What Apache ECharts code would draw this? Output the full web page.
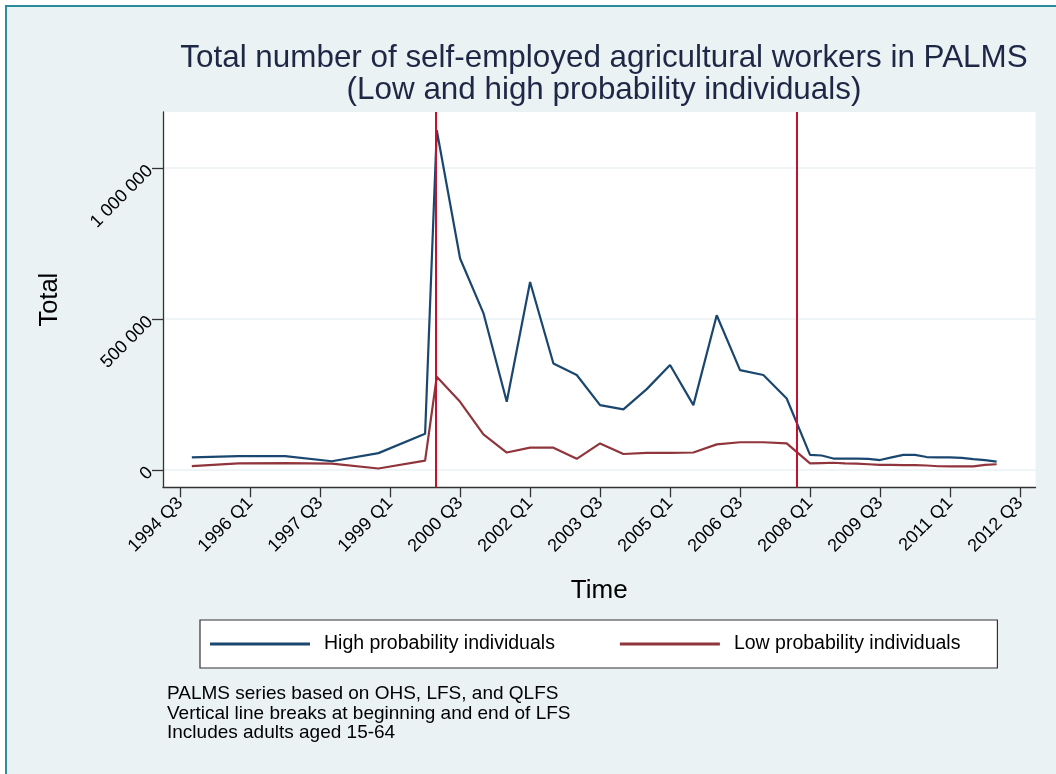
<!DOCTYPE html>
<html>
<head>
<meta charset="utf-8">
<script src="https://cdn.jsdelivr.net/npm/echarts@6/dist/echarts.min.js"></script>
<style>
html,body{margin:0;padding:0;background:#fff;}
#chart{width:1056px;height:774px;}
</style>
</head>
<body>
<div id="chart"></div>
<script>
// ---- data ----
const quarters = [
  '1994 Q4','1995 Q4','1996 Q4','1997 Q4','1998 Q4','1999 Q4',
  '2000 Q1','2000 Q3','2001 Q1','2001 Q3','2002 Q1','2002 Q3','2003 Q1','2003 Q3',
  '2004 Q1','2004 Q3','2005 Q1','2005 Q3','2006 Q1','2006 Q3','2007 Q1','2007 Q3',
  '2008 Q1','2008 Q2','2008 Q3','2008 Q4','2009 Q1','2009 Q2','2009 Q3','2009 Q4',
  '2010 Q1','2010 Q2','2010 Q3','2010 Q4','2011 Q1','2011 Q2','2011 Q3','2011 Q4','2012 Q1'
];
const highProb = [
  42000, 46000, 46000, 29000, 56000, 120000,
  1126000, 701000, 520000, 226000, 623000, 353000, 315000, 215000,
  201000, 268000, 348000, 215000, 513000, 331000, 315000, 237000,
  50000, 48000, 38000, 38000, 38000, 37000, 33000, 42000,
  50000, 50000, 43000, 42000, 42000, 40000, 36000, 33000, 28000
];
const lowProb = [
  13000, 22000, 23000, 21000, 5000, 31000,
  309000, 226000, 118000, 58000, 74000, 74000, 37000, 88000,
  53000, 57000, 57000, 58000, 85000, 92000, 92000, 88000,
  22000, 23000, 24000, 22000, 21000, 19000, 17000, 17000,
  16500, 16500, 15000, 12500, 12000, 12000, 12000, 17000, 19000
];
const tickQuarters = ['1994 Q3','1996 Q1','1997 Q3','1999 Q1','2000 Q3','2002 Q1','2003 Q3',
  '2005 Q1','2006 Q3','2008 Q1','2009 Q3','2011 Q1','2012 Q3'];
const breakQuarters = ['2000 Q1','2007 Q4'];
const yTicks = [0, 500000, 1000000];
const seriesNames = ['High probability individuals','Low probability individuals'];
const notes = ['PALMS series based on OHS, LFS, and QLFS',
  'Vertical line breaks at beginning and end of LFS',
  'Includes adults aged 15-64'];

// quarter string -> index (quarters since 1994 Q3)
function qIndex(s){
  const m = s.match(/(\d{4}) Q(\d)/);
  return (parseInt(m[1]) - 1994) * 4 + (parseInt(m[2]) - 3);
}
function qLabel(i){
  const t = i + 2; // quarters since 1994 Q1
  const y = 1994 + Math.floor(t / 4);
  const q = (t % 4) + 1;
  return y + ' Q' + q;
}
const tickIdx = tickQuarters.map(qIndex);
const FONT = 'Liberation Sans, Arial, sans-serif';

const chart = echarts.init(document.getElementById('chart'), null, {renderer:'canvas'});
chart.setOption({
  animation: false,
  backgroundColor: '#ffffff',
  graphic: [{
    type: 'rect', z: -10, silent: true,
    shape: {x: 6, y: 6, width: 1200, height: 900},
    style: {fill: '#EAF2F3', stroke: '#2B8C9C', lineWidth: 2}
  }],
  title: [{
    text: 'Total number of self-employed agricultural workers in PALMS\n(Low and high probability individuals)',
    left: 604, top: 42, padding: 0, textAlign: 'center',
    textStyle: {fontFamily: FONT, fontSize: 31.4, fontWeight: 'normal', color: '#1E2846', lineHeight: 32}
  }, {
    text: notes.join('\n'),
    left: 167, top: 684, padding: 0,
    textStyle: {fontFamily: FONT, fontSize: 19, fontWeight: 'normal', color: '#000', lineHeight: 19.6}
  }],
  legend: {
    data: seriesNames,
    left: 200, top: 620,
    orient: 'horizontal',
    padding: [14, 37, 14, 10],
    itemGap: 65,
    itemWidth: 100, itemHeight: 3,
    icon: 'rect',
    backgroundColor: '#fff',
    borderColor: '#333', borderWidth: 1.2,
    textStyle: {fontFamily: FONT, fontSize: 19.5, color: '#000', padding: [0,0,0,9]}
  },
  grid: {
    left: 163, top: 112, right: 20.5, bottom: 286.7,
    show: true, backgroundColor: '#ffffff', borderWidth: 0,
    containLabel: false
  },
  xAxis: {
    type: 'value',
    min: -1.47, max: 73.33,
    name: 'Time', nameLocation: 'middle', nameGap: 91,
    nameTextStyle: {fontFamily: FONT, fontSize: 26, color: '#000'},
    axisLine: {show: true, onZero: false, lineStyle: {color: '#333', width: 1.3}},
    axisTick: {show: true, length: 10, customValues: tickIdx, lineStyle: {color: '#333', width: 1.3}},
    axisLabel: {
      customValues: tickIdx, rotate: 45, margin: 13,
      fontFamily: FONT, fontSize: 18, color: '#000',
      formatter: v => qLabel(Math.round(v))
    },
    splitLine: {show: false}
  },
  yAxis: {
    type: 'value',
    min: -57300, max: 1186400,
    name: 'Total', nameLocation: 'middle', nameGap: 100, nameRotate: 90,
    nameTextStyle: {fontFamily: FONT, fontSize: 25.5, color: '#000'},
    axisLine: {show: true, onZero: false, lineStyle: {color: '#333', width: 1.3}},
    axisTick: {show: true, length: 11, customValues: yTicks, lineStyle: {color: '#333', width: 1.3}},
    axisLabel: {
      customValues: yTicks, rotate: 45, margin: 13,
      fontFamily: FONT, fontSize: 18, color: '#000',
      formatter: v => String(v).replace(/\B(?=(\d{3})+(?!\d))/g, ' ')
    },
    splitLine: {show: true, lineStyle: {color: '#EAF2F3', width: 1.6}}
  },
  series: [{
    name: seriesNames[0], type: 'line', showSymbol: false, symbol: 'none',
    data: quarters.map((q, i) => [qIndex(q), highProb[i]]),
    lineStyle: {color: '#1A476F', width: 2.2}, itemStyle: {color: '#1A476F'},
    markLine: {
      silent: true, symbol: 'none', label: {show: false},
      lineStyle: {color: '#C8102E', width: 2, type: 'solid'},
      data: breakQuarters.map(q => ({xAxis: qIndex(q) - 0.1}))
    }
  }, {
    name: seriesNames[1], type: 'line', showSymbol: false, symbol: 'none',
    data: quarters.map((q, i) => [qIndex(q), lowProb[i]]),
    lineStyle: {color: '#90353B', width: 2.2}, itemStyle: {color: '#90353B'}
  }]
});
</script>
</body>
</html>
